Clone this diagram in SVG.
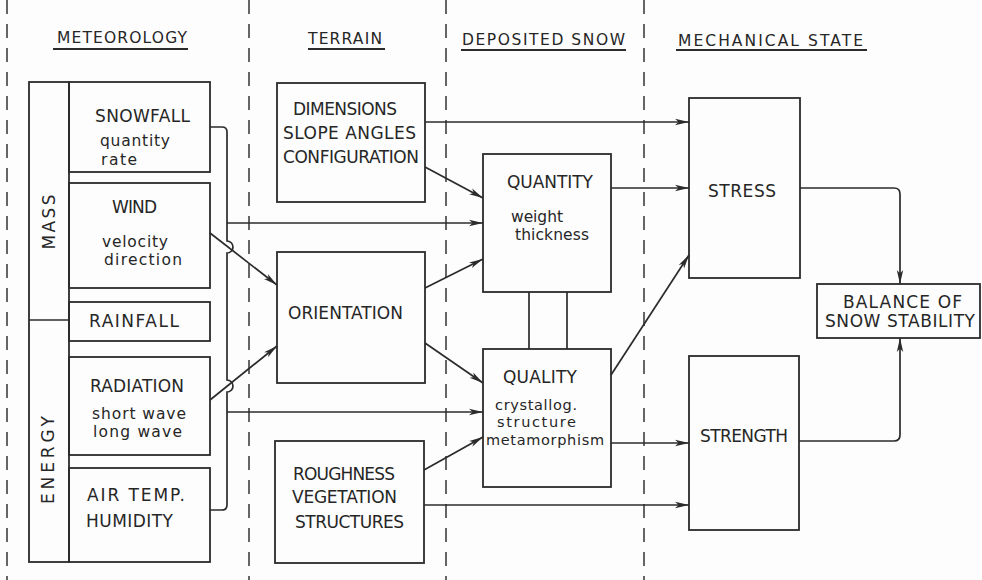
<svg xmlns="http://www.w3.org/2000/svg" width="982" height="580" viewBox="0 0 982 580">
<defs>
<style>
.bg{fill:#fdfdfd}
.box{fill:none;stroke:#2b2b2b;stroke-width:1.8}
.dash{fill:none;stroke:#333;stroke-width:1.5;stroke-dasharray:14 10}
.ul{stroke:#2b2b2b;stroke-width:2}
.ln{fill:none;stroke:#2b2b2b;stroke-width:1.7}
.arr{marker-end:url(#ah)}
text{font-family:"DejaVu Sans","Liberation Sans",sans-serif;fill:#262626}
.h{font-size:15.5px}
.c{font-size:17px}
.l{font-size:15.5px}
.s{font-size:14.5px}
</style>
<marker id="ah" viewBox="0 0 14 8" refX="14" refY="4" markerWidth="14" markerHeight="8" orient="auto" markerUnits="userSpaceOnUse">
<path d="M0,0.8 L14,4 L0,7.2 L3.5,4 z" fill="#2b2b2b"/>
</marker>
</defs>
<rect class="bg" x="0" y="0" width="982" height="580"/>

<g id="dividers">
<line class="dash" x1="7" y1="0" x2="7" y2="580"/>
<line class="dash" x1="249" y1="0" x2="249" y2="580"/>
<line class="dash" x1="446" y1="0" x2="446" y2="580"/>
<line class="dash" x1="644" y1="0" x2="644" y2="580"/>
</g>

<g id="headers">
<text class="h" x="57" y="43" textLength="130" lengthAdjust="spacing">METEOROLOGY</text>
<line class="ul" x1="53" y1="49" x2="188" y2="49"/>
<text class="h" x="308" y="44" textLength="74" lengthAdjust="spacing">TERRAIN</text>
<line class="ul" x1="308" y1="49" x2="385" y2="49"/>
<text class="h" x="462" y="45" textLength="163" lengthAdjust="spacing">DEPOSITED SNOW</text>
<line class="ul" x1="461" y1="50" x2="626" y2="50"/>
<text class="h" x="678" y="46" textLength="185" lengthAdjust="spacing">MECHANICAL STATE</text>
<line class="ul" x1="676" y1="50" x2="867" y2="50"/>
</g>

<g id="mass-energy">
<rect class="box" x="29" y="82" width="40" height="480"/>
<line class="ln" x1="29" y1="320" x2="69" y2="320"/>
<text class="c" transform="translate(55,222) rotate(-90)" text-anchor="middle" textLength="55" lengthAdjust="spacing">MASS</text>
<text class="c" transform="translate(54,460) rotate(-90)" text-anchor="middle" textLength="88" lengthAdjust="spacing">ENERGY</text>
</g>

<g id="snowfall">
<rect class="box" x="69" y="82" width="141" height="90"/>
<text class="c" x="95" y="122" textLength="95" lengthAdjust="spacing">SNOWFALL</text>
<text class="l" x="100" y="146" textLength="70" lengthAdjust="spacing">quantity</text>
<text class="l" x="101" y="165" textLength="36" lengthAdjust="spacing">rate</text>
</g>

<g id="wind">
<rect class="box" x="69" y="183" width="141" height="105"/>
<text class="c" x="112" y="213" textLength="45" lengthAdjust="spacing">WIND</text>
<text class="l" x="102" y="247" textLength="66" lengthAdjust="spacing">velocity</text>
<text class="l" x="104" y="265" textLength="78" lengthAdjust="spacing">direction</text>
</g>

<g id="rainfall">
<rect class="box" x="69" y="302" width="141" height="39"/>
<text class="c" x="89" y="327" textLength="90" lengthAdjust="spacing">RAINFALL</text>
</g>

<g id="radiation">
<rect class="box" x="69" y="357" width="141" height="98"/>
<text class="c" x="90" y="392" textLength="94" lengthAdjust="spacing">RADIATION</text>
<text class="l" x="92" y="419" textLength="94" lengthAdjust="spacing">short wave</text>
<text class="l" x="93" y="437" textLength="89" lengthAdjust="spacing">long wave</text>
</g>

<g id="airtemp">
<rect class="box" x="69" y="468" width="141" height="94"/>
<text class="c" x="87" y="501" textLength="98" lengthAdjust="spacing">AIR TEMP.</text>
<text class="c" x="86" y="527" textLength="87" lengthAdjust="spacing">HUMIDITY</text>
</g>

<g id="dimensions">
<rect class="box" x="277" y="83" width="148" height="119"/>
<text class="c" x="293" y="115" textLength="104" lengthAdjust="spacing">DIMENSIONS</text>
<text class="c" x="283" y="139" textLength="133" lengthAdjust="spacing">SLOPE ANGLES</text>
<text class="c" x="283" y="163" textLength="136" lengthAdjust="spacing">CONFIGURATION</text>
</g>

<g id="orientation">
<rect class="box" x="277" y="252" width="148" height="131"/>
<text class="c" x="288" y="319" textLength="115" lengthAdjust="spacing">ORIENTATION</text>
</g>

<g id="roughness">
<rect class="box" x="275" y="441" width="149" height="122"/>
<text class="c" x="293" y="480" textLength="102" lengthAdjust="spacing">ROUGHNESS</text>
<text class="c" x="292" y="503" textLength="105" lengthAdjust="spacing">VEGETATION</text>
<text class="c" x="295" y="528" textLength="109" lengthAdjust="spacing">STRUCTURES</text>
</g>

<g id="quantity">
<rect class="box" x="483" y="154" width="128" height="138"/>
<text class="c" x="507" y="188" textLength="86" lengthAdjust="spacing">QUANTITY</text>
<text class="l" x="511" y="222" textLength="52" lengthAdjust="spacing">weight</text>
<text class="l" x="515" y="240" textLength="74" lengthAdjust="spacing">thickness</text>
</g>

<g id="quality">
<rect class="box" x="483" y="349" width="128" height="138"/>
<text class="c" x="503" y="383" textLength="74" lengthAdjust="spacing">QUALITY</text>
<text class="s" x="495" y="410" textLength="82" lengthAdjust="spacing">crystallog.</text>
<text class="s" x="497" y="427" textLength="79" lengthAdjust="spacing">structure</text>
<text class="s" x="486" y="445" textLength="118" lengthAdjust="spacing">metamorphism</text>
</g>

<g id="stress">
<rect class="box" x="689" y="98" width="111" height="180"/>
<text class="c" x="708" y="197" textLength="68" lengthAdjust="spacing">STRESS</text>
</g>

<g id="strength">
<rect class="box" x="689" y="356" width="110" height="174"/>
<text class="c" x="700" y="442" textLength="88" lengthAdjust="spacing">STRENGTH</text>
</g>

<g id="balance">
<rect class="box" x="817" y="284" width="163" height="54"/>
<text class="c" x="843" y="308" textLength="119" lengthAdjust="spacing">BALANCE OF</text>
<text class="c" x="825" y="327" textLength="150" lengthAdjust="spacing">SNOW STABILITY</text>
</g>

<g id="connectors">
<path class="ln" d="M210,127 H222 Q227,127 227,132 V241 A6,6 0 0 1 227,253 V380 A6,6 0 0 1 227,392 V505 Q227,510 222,510 H210"/>
<path class="ln arr" d="M227,223 H483"/>
<path class="ln arr" d="M227,412 H483"/>
<path class="ln arr" d="M210,233 L277,285"/>
<path class="ln arr" d="M210,400 L277,346"/>
<path class="ln arr" d="M425,122 H689"/>
<path class="ln arr" d="M425,167 L483,198"/>
<path class="ln arr" d="M425,288 L483,259"/>
<path class="ln arr" d="M425,343 L483,383"/>
<path class="ln arr" d="M424,470 L483,437"/>
<path class="ln arr" d="M424,505 H689"/>
<path class="ln arr" d="M611,188 H689"/>
<path class="ln arr" d="M611,375 L689,255"/>
<path class="ln arr" d="M611,443 H689"/>
<path class="ln" d="M529,292 V349"/>
<path class="ln" d="M567,292 V349"/>
<path class="ln arr" d="M800,188 H894 Q900,188 900,194 V284"/>
<path class="ln arr" d="M799,441 H894 Q900,441 900,435 V338"/>
</g>
</svg>
